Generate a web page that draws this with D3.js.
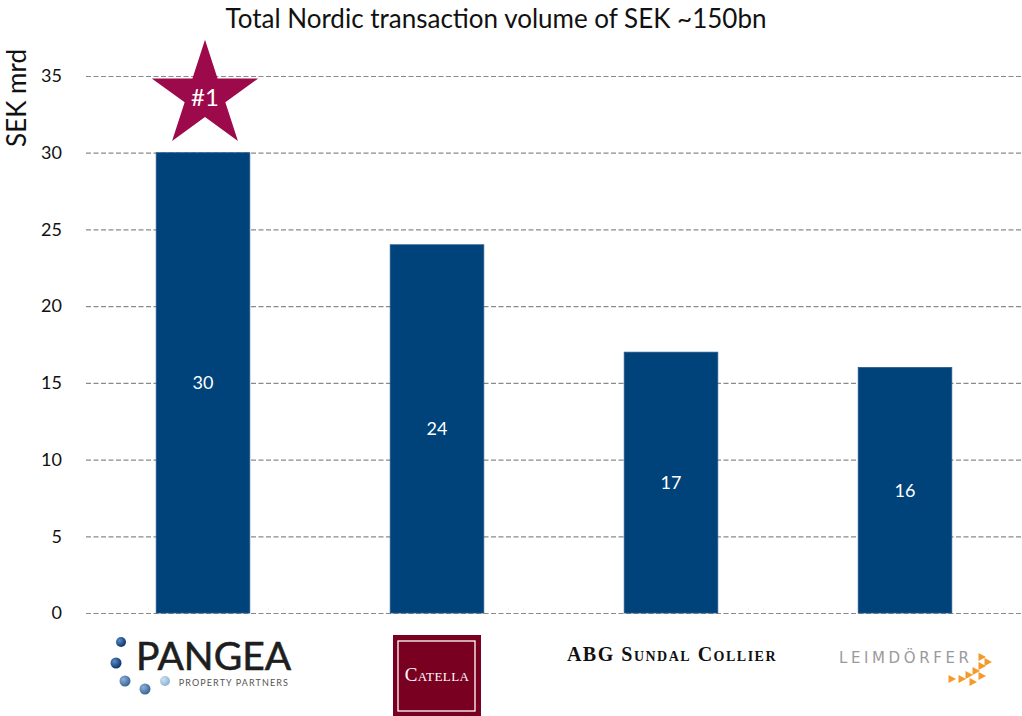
<!DOCTYPE html>
<html>
<head>
<meta charset="utf-8">
<script src="https://cdn.jsdelivr.net/npm/d3@7"></script>
<style>
  body { margin: 0; background: #fff; }
  svg { display: block; font-family: "Lato", "Open Sans", sans-serif; }
</style>
</head>
<body>
<svg id="chart" width="1022" height="716"></svg>
<script>
// data
const firms = ["Pangea", "Catella", "ABG Sundal Collier", "Leimdörfer"];
const volumes = [30, 24, 17, 16];
const yTicks = [0, 5, 10, 15, 20, 25, 30, 35];
const title = "Total Nordic transaction volume of SEK ~150bn";
const yLabel = "SEK mrd";
const rankLabel = "#1";

var svg = d3.select("#chart");

var mLeft = 86, mRight = 1022, mTop = 76, mBottom = 613;

var xScale = d3.scaleBand()
    .domain(firms)
    .range([mLeft, mRight])
    .paddingInner(0.6)
    .paddingOuter(0.3);

var yScale = d3.scaleLinear()
    .domain([0, 35])
    .range([mBottom, mTop]);

// gridlines + tick labels
var yAxis = d3.axisLeft(yScale)
    .tickValues(yTicks)
    .tickSize(-(mRight - mLeft))
    .tickPadding(24);

var gy = svg.append("g")
    .attr("transform", `translate(${mLeft},0)`)
    .call(yAxis);
gy.select(".domain").remove();
gy.selectAll("line")
    .attr("stroke", "#8a8a8a")
    .attr("stroke-width", 1.2)
    .attr("stroke-dasharray", "5,2.5");
gy.selectAll("text")
    .attr("fill", "#111")
    .style("font-size", "18px")
    .style("font-family", "Lato, sans-serif");

// bars
svg.selectAll("rect.bar")
    .data(volumes)
    .enter()
    .append("rect")
    .attr("class", "bar")
    .attr("x", (d, i) => xScale(firms[i]))
    .attr("y", d => yScale(d))
    .attr("width", xScale.bandwidth())
    .attr("height", d => yScale(0) - yScale(d))
    .attr("fill", "#00427a")
    .attr("stroke", "#24578a")
    .attr("stroke-width", 0.8);

// value labels in the middle of bars
svg.selectAll("text.value")
    .data(volumes)
    .enter()
    .append("text")
    .attr("class", "value")
    .attr("x", (d, i) => xScale(firms[i]) + xScale.bandwidth() / 2)
    .attr("y", d => (yScale(d) + yScale(0)) / 2)
    .attr("dy", "0.35em")
    .attr("text-anchor", "middle")
    .attr("fill", "#fff")
    .style("font-size", "18px")
    .text(d => d);

// title
svg.append("text")
    .attr("x", 496)
    .attr("y", 28)
    .attr("text-anchor", "middle")
    .attr("fill", "#111")
    .style("font-size", "26px")
    .text(title);

// y label
svg.append("text")
    .attr("transform", "translate(26,98) rotate(-90)")
    .attr("text-anchor", "middle")
    .attr("fill", "#111")
    .style("font-size", "26px")
    .text(yLabel);

// star for #1
var cx = xScale(firms[0]) + xScale.bandwidth() / 2 + 2;
var cy = yScale(volumes[0]) - 57;
var R = 56, r = R * 0.382;
var starPts = d3.range(10).map(k => {
    var a = -Math.PI / 2 + k * Math.PI / 5;
    var rr = k % 2 === 0 ? R : r;
    return [cx + rr * Math.cos(a), cy + rr * Math.sin(a)];
});
svg.append("path")
    .attr("d", d3.line()(starPts) + "Z")
    .attr("fill", "#9c0a4b");
svg.append("text")
    .attr("x", cx)
    .attr("y", cy + 2)
    .attr("dy", "0.35em")
    .attr("text-anchor", "middle")
    .attr("fill", "#fff")
    .style("font-size", "24px")
    .text(rankLabel);

// logos (drawn as text and shapes)
var logos = svg.append("g");
var c0 = xScale(firms[0]) + xScale.bandwidth() / 2;
var c1 = xScale(firms[1]) + xScale.bandwidth() / 2;
var c2 = xScale(firms[2]) + xScale.bandwidth() / 2;
var c3 = xScale(firms[3]) + xScale.bandwidth() / 2;

// Pangea
var grad = svg.append("defs").selectAll("radialGradient")
    .data([["g1", "#5d8cc4", "#0e3670"], ["g2", "#8fb1d6", "#3a6699"], ["g3", "#cfe1f0", "#8db3d6"]])
    .enter().append("radialGradient")
    .attr("id", d => d[0])
    .attr("cx", "35%").attr("cy", "35%").attr("r", "65%");
grad.append("stop").attr("offset", "0%").attr("stop-color", d => d[1]);
grad.append("stop").attr("offset", "100%").attr("stop-color", d => d[2]);

var dots = [[-82, 642, 5, "g1"], [-87, 663, 5.5, "g1"], [-78, 681, 5.5, "g2"], [-58, 689, 5.5, "g2"], [-38, 681, 5, "g3"]];
logos.selectAll("circle.dot")
    .data(dots)
    .enter().append("circle")
    .attr("cx", d => c0 + d[0])
    .attr("cy", d => d[1])
    .attr("r", d => d[2])
    .attr("fill", d => `url(#${d[3]})`);
logos.append("text")
    .attr("x", c0 - 67)
    .attr("y", 670)
    .attr("fill", "#1e1e1e")
    .attr("stroke", "#1e1e1e")
    .attr("stroke-width", 0.6)
    .style("font-size", "39px")
    .text("PANGEA");
logos.append("text")
    .attr("x", c0 + 86)
    .attr("y", 686)
    .attr("text-anchor", "end")
    .attr("fill", "#555")
    .style("font-size", "9px")
    .style("letter-spacing", "1.1px")
    .text("PROPERTY PARTNERS");

// Catella
logos.append("rect")
    .attr("x", c1 - 44).attr("y", 635)
    .attr("width", 88).attr("height", 84)
    .attr("fill", "#7a0021");
logos.append("rect")
    .attr("x", c1 - 39).attr("y", 641)
    .attr("width", 77).attr("height", 70)
    .attr("fill", "none")
    .attr("stroke", "#fff")
    .attr("stroke-width", 1.3);
logos.append("text")
    .attr("x", c1)
    .attr("y", 681)
    .attr("text-anchor", "middle")
    .attr("fill", "#fff")
    .style("font-family", "'Liberation Serif', serif")
    .style("font-size", "19px")
    .style("letter-spacing", "0.4px")
    .style("font-variant", "small-caps")
    .text("Catella");

// ABG Sundal Collier
logos.append("text")
    .attr("x", c2 + 1)
    .attr("y", 661)
    .attr("text-anchor", "middle")
    .attr("fill", "#111")
    .style("font-family", "'Liberation Serif', serif")
    .style("font-weight", "bold")
    .style("font-size", "20px")
    .style("letter-spacing", "1.5px")
    .style("font-variant", "small-caps")
    .text("ABG Sundal Collier");

// Leimdörfer
logos.append("text")
    .attr("x", c3 - 66)
    .attr("y", 663)
    .attr("fill", "#9a9a9a")
    .style("font-family", "'DejaVu Sans', sans-serif")
    .style("font-size", "15px")
    .style("letter-spacing", "3.6px")
    .text("LEIMDÖRFER");
var tri = [[77, 657], [83, 662], [77, 666], [71, 671], [77, 676], [64, 675], [57, 679], [47, 679], [68, 682]];
logos.selectAll("path.tri")
    .data(tri)
    .enter().append("path")
    .attr("d", d => {
        var x = c3 + d[0], y = d[1];
        return `M${x - 3.5},${y - 4}L${x + 4},${y}L${x - 3.5},${y + 4}Z`;
    })
    .attr("fill", "#f39a2a");
</script>
</body>
</html>
